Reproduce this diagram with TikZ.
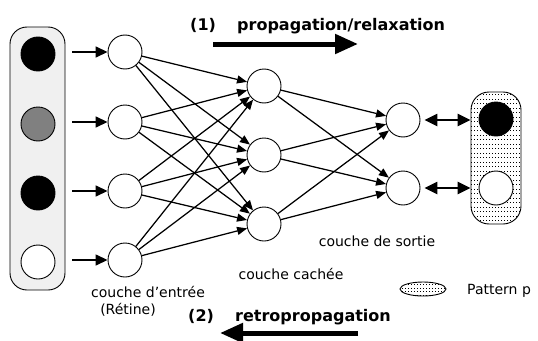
\documentclass[tikz,border=0pt]{standalone}
\usepackage{fontspec}
\setmainfont{DejaVu Sans}[Ligatures=ResetAll]
\usetikzlibrary{arrows.meta,shapes.geometric}

\definecolor{midgrey}{RGB}{128,128,128}
\definecolor{panelgrey}{RGB}{240,240,240}

\tikzset{
  unit/.style={circle, draw, line width=0.9pt, minimum size=34pt, inner sep=0pt},
  neuron/.style={unit, fill=white},
  link/.style={line width=1.25pt, -{Triangle[length=10pt,width=8pt]}},
  feed/.style={line width=1.5pt, -{Triangle[length=12pt,width=11pt]}},
  twoway/.style={line width=2.4pt, {Triangle[length=13pt,width=12pt]}-{Triangle[length=13pt,width=12pt]}},
  flow/.style={line width=5pt, -{Triangle[length=23pt,width=19pt]}},
  lbl/.style={font=\fontsize{14}{16}\selectfont, inner sep=0pt, anchor=base},
  title/.style={font=\bfseries\fontsize{16}{18}\selectfont, inner sep=0pt, anchor=base west},
  dotrow/.style={line width=0.7pt, dash pattern=on 1.4pt off 1.6pt},
}

\begin{document}
\begin{tikzpicture}[x=1pt,y=-1pt]
\useasboundingbox (0,0) rectangle (538,340);

% input panel (retina)
\node[draw, rounded corners=17pt, fill=panelgrey, line width=0.9pt,
      minimum width=55pt, minimum height=263pt, inner sep=0pt] (retina) at (37.5,158.5) {};
\node[unit, fill=black]   (r1) at (38,54)  {};
\node[unit, fill=midgrey] (r2) at (38,124) {};
\node[unit, fill=black]   (r3) at (38,193) {};
\node[unit, fill=white]   (r4) at (38,262) {};

% input layer
\node[neuron] (i1) at (125,52)  {};
\node[neuron] (i2) at (125,122) {};
\node[neuron] (i3) at (125,191) {};
\node[neuron] (i4) at (125,260) {};

% hidden layer
\node[neuron] (h1) at (264,86)  {};
\node[neuron] (h2) at (264,155) {};
\node[neuron] (h3) at (264,224) {};

% output layer
\node[neuron] (o1) at (403,120) {};
\node[neuron] (o2) at (403,188) {};

% retina to input layer
\foreach \k in {1,...,4}
  \draw[feed] ([xshift=7pt]retina.east |- i\k) -- (i\k);

% input to hidden
\foreach \a in {1,...,4}
  \foreach \b in {1,2,3}
    \draw[link] (i\a) -- (h\b);

% hidden to output
\foreach \a in {1,2,3}
  \foreach \b in {1,2}
    \draw[link] (h\a) -- (o\b);

% target pattern panel with dotted fill
\begin{scope}
  \clip[rounded corners=18pt] (471,92) rectangle (521,224);
  \foreach \y in {94.5,99,...,224}
    \draw[dotrow] (471,\y) -- (521,\y);
\end{scope}
\node[draw, rounded corners=18pt, line width=0.9pt,
      minimum width=50pt, minimum height=132pt, inner sep=0pt] (pat) at (496,158) {};
\node[unit, fill=black] (p1) at (496,119) {};
\node[unit, fill=white] (p2) at (496,188) {};

% output compared with the pattern
\draw[twoway, shorten <=4pt] (o1) -- (o1 -| pat.west);
\draw[twoway, shorten <=4pt] (o2) -- (o2 -| pat.west);

% legend
\begin{scope}
  \clip (423,289) ellipse [x radius=23, y radius=7];
  \foreach \y in {284.5,288,...,296}
    \draw[dotrow] (399,\y) -- (447,\y);
\end{scope}
\node[ellipse, draw, line width=0.9pt, minimum width=46pt, minimum height=14pt, inner sep=0pt] (leg) at (423,289) {};
\node[lbl, anchor=base west] (lpat) at (467,294) {Pattern p};

% layer labels
\node[lbl] (lin)  at (148,297) {couche d'entrée};
\node[lbl] (lret) at (128,314) {(Rétine)};
\node[lbl] (lhid) at (291,279) {couche cachée};
\node[lbl] (lout) at (377,246) {couche de sortie};

% phases
\node[title] (n1) at (190,30) {(1)};
\node[title] (t1) at (237,30) {propagation/relaxation};
\coordinate (f1a) at (213,44);
\coordinate (f1b) at (358,44);
\draw[flow] (f1a) -- (f1b);

\node[title] (n2) at (188,321) {(2)};
\node[title] (t2) at (235,321) {retropropagation};
\coordinate (f2a) at (358,333);
\coordinate (f2b) at (220,333);
\draw[flow] (f2a) -- (f2b);
\end{tikzpicture}
\end{document}
